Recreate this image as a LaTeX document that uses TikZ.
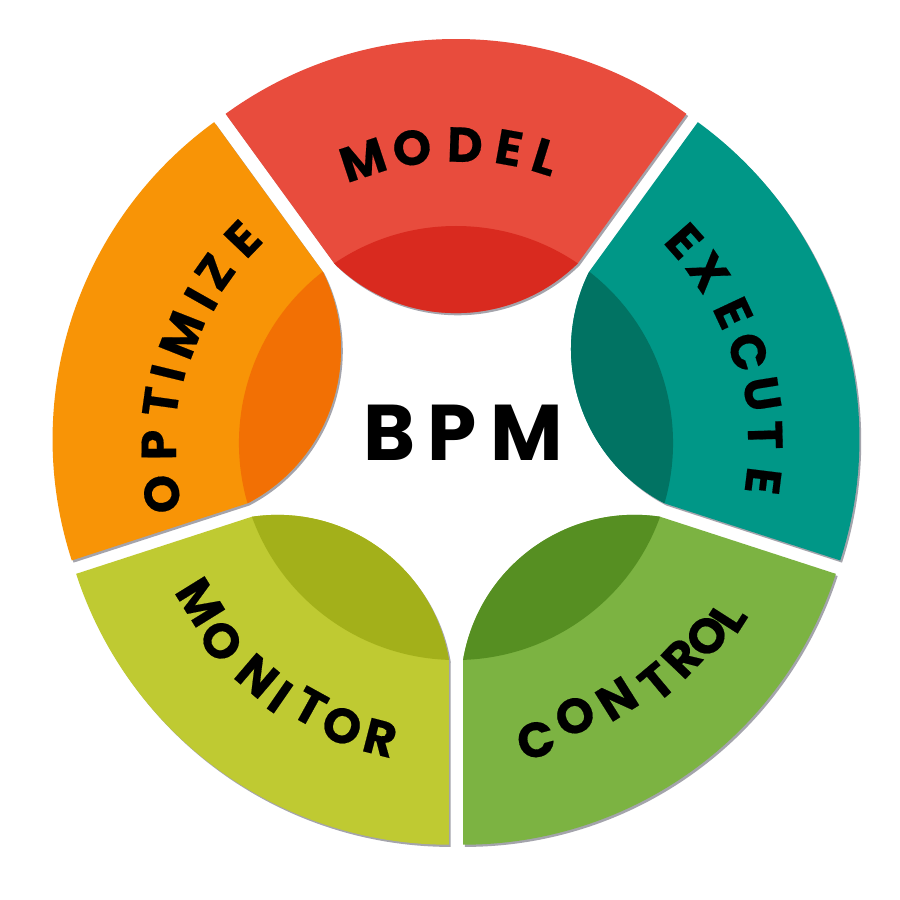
\documentclass[tikz,border=0pt]{standalone}
\usepackage{fontspec}
\newfontfamily\popfont{Poppins}
\newfontfamily\popheavy{Poppins}[BoldFeatures={FakeBold=0.35}]
\definecolor{modelmain}{HTML}{E84C3D}
\definecolor{modeldark}{HTML}{D92A1F}
\definecolor{optmain}{HTML}{F89406}
\definecolor{optdark}{HTML}{F27004}
\definecolor{execmain}{HTML}{009787}
\definecolor{execdark}{HTML}{017363}
\definecolor{ctrlmain}{HTML}{7CB342}
\definecolor{ctrldark}{HTML}{568F22}
\definecolor{monmain}{HTML}{BFCA32}
\definecolor{mondark}{HTML}{A3B01A}
\definecolor{shadowcol}{HTML}{A4A4AC}
\newcommand\segpath{(36:207.4pt) -- (36:392pt) arc[start angle=36, end angle=-36, radius=392pt] -- (-36:207.4pt) arc[start angle=224.5, end angle=135.5, radius=174pt] -- cycle}
\begin{document}
\begin{tikzpicture}[
  lt/.style={font=\popheavy\bfseries\fontsize{49}{49}\selectfont, inner sep=0pt, text height=34pt, text depth=0pt, anchor=center},
  bpm/.style={font=\popfont\bfseries\fontsize{79}{79}\selectfont, inner sep=0pt, text height=55pt, text depth=0pt, anchor=center}
]
\useasboundingbox (-456pt,-457pt) rectangle (444pt,443pt);
\fill[white] (-456pt,-457pt) rectangle (444pt,443pt);
% shadows
\foreach \ang in {90,162,234,306,18}{
  \begin{scope}[shift={(1.8pt,-2.2pt)}]
    \begin{scope}[rotate=\ang, shift={(12pt,0pt)}]
      \fill[shadowcol] \segpath;
    \end{scope}
  \end{scope}
}
% segments
\foreach \ang/\main/\dark in {90/modelmain/modeldark, 162/optmain/optdark, 234/monmain/mondark, 306/ctrlmain/ctrldark, 18/execmain/execdark}{
  \begin{scope}[rotate=\ang, shift={(12pt,0pt)}]
    \fill[\main] \segpath;
    \begin{scope}
      \clip \segpath;
      \fill[\dark] (-12pt,0pt) circle[radius=217pt];
    \end{scope}
  \end{scope}
}
% labels
\foreach \ch/\x/\y/\r [count=\i] in {M/-93/283/18.2, O/-44/295/8.5, D/9/298/-1.7, E/53/295/-10.2, L/89/286/-17.3}
  \node[lt, rotate=\r] (model\i) at (\x pt,\y pt) {\ch};
\foreach \ch/\x/\y/\r [count=\i] in {E/228/202/-48.5, X/252/171/-55.8, E/277/130/-64.9, C/292/91/-72.7, U/306/49/-80.9, T/309/8/-88.5, E/307/-38/-97.1}
  \node[lt, rotate=\r] (exec\i) at (\x pt,\y pt) {\ch};
\foreach \ch/\x/\y/\r [count=\i] in {O/-294/-51/99.8, P/-297/-2/90.4, T/-295/41/82.1, I/-288/70/76.3, M/-274/108/68.5, I/-255/144/60.5, Z/-241/171/54.6, E/-213/204/46.2}
  \node[lt, rotate=\r] (opt\i) at (\x pt,\y pt) {\ch};
\foreach \ch/\x/\y/\r [count=\i] in {M/-256/-159/-58.2, O/-235/-198/-49.9, N/-199/-233/-40.5, I/-176/-254/-34.7, T/-146/-264/-28.9, O/-114/-283/-21.9, R/-76/-295/-14.4}
  \node[lt, rotate=\r] (mon\i) at (\x pt,\y pt) {\ch};
\foreach \ch/\x/\y/\r [count=\i] in {C/80/-297/15.1, O/119/-273/23.6, N/161/-256/32.2, T/201/-239/39.9, R/226/-215/46.4, O/251/-193/52.4, L/272/-174/57.4}
  \node[lt, rotate=\r] (ctrl\i) at (\x pt,\y pt) {\ch};
% centre
\node[bpm] (bpmB) at (-66.5pt,10.5pt) {B};
\node[bpm] (bpmP) at (-3.5pt,10.5pt) {P};
\node[bpm] (bpmM) at (70.5pt,10.5pt) {M};
\end{tikzpicture}
\end{document}
